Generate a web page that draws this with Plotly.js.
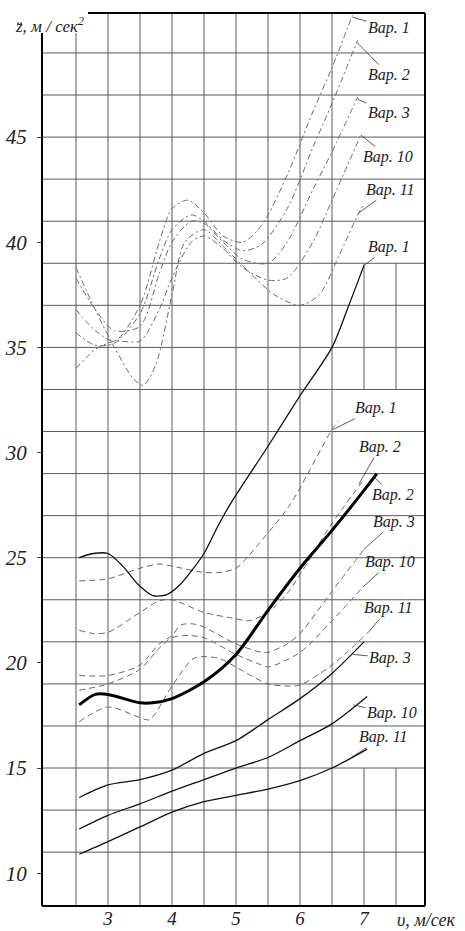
<!DOCTYPE html>
<html><head><meta charset="utf-8">
<script src="https://cdn.plot.ly/plotly-3.0.1.min.js"></script>
<style>html,body{margin:0;padding:0;background:#fff}#c{width:465px;height:931px}</style>
</head><body><div id="c"></div><script>
// ---- data (v in m/s, z'' in m/s^2) ----
// upper group, dash-dot curves
const vTop1 = [2.5, 2.8, 3.1, 3.5, 3.8, 4.0, 4.25, 4.5, 4.8, 5.1, 5.4, 5.8, 6.2, 6.5, 6.82];
const zTop1 = [36.8, 35.8, 35.3, 37.0, 40.0, 41.6, 42.0, 41.4, 40.3, 40.0, 40.8, 43.2, 46.2, 48.3, 50.8];
const vTop2 = [2.5, 2.8, 3.1, 3.5, 3.8, 4.0, 4.3, 4.5, 4.8, 5.1, 5.4, 5.8, 6.2, 6.5, 6.9];
const zTop2 = [35.7, 35.1, 35.2, 36.6, 39.2, 40.6, 41.3, 41.0, 40.1, 39.6, 39.9, 41.6, 44.5, 46.6, 49.6];
const vTop3 = [2.5, 2.8, 3.1, 3.5, 3.8, 4.0, 4.3, 4.5, 4.8, 5.1, 5.5, 5.8, 6.2, 6.5, 6.9];
const zTop3 = [38.3, 36.8, 35.8, 36.0, 38.5, 40.0, 41.0, 40.9, 40.0, 39.2, 39.0, 40.0, 42.5, 44.3, 46.9];
const vTop10 = [2.5, 2.8, 3.1, 3.5, 3.8, 4.0, 4.3, 4.5, 4.8, 5.1, 5.5, 5.8, 6.2, 6.5, 6.95];
const zTop10 = [34.0, 34.9, 35.3, 35.3, 36.8, 38.3, 40.0, 40.3, 39.7, 38.8, 38.2, 38.3, 40.0, 42.0, 45.1];
const vTop11 = [2.5, 2.8, 3.1, 3.4, 3.55, 3.75, 4.0, 4.2, 4.5, 4.8, 5.2, 5.6, 6.0, 6.3, 6.6, 6.92, 7.0];
const zTop11 = [38.8, 36.8, 35.0, 33.5, 33.2, 34.2, 37.5, 40.0, 40.6, 39.8, 38.6, 37.5, 37.0, 37.5, 39.3, 41.4, 41.8];

// middle group, dashed curves
const vDash1 = [2.55, 3.0, 3.5, 3.8, 4.0, 4.5, 4.75, 5.0, 5.17, 5.34, 5.84, 6.5, 6.6];
const zDash1 = [23.9, 24.0, 24.5, 24.7, 24.6, 24.3, 24.3, 24.5, 25.0, 25.6, 27.5, 31.1, 31.5];
const vDash2 = [2.55, 2.77, 3.0, 3.5, 3.8, 4.0, 4.5, 5.0, 5.2, 5.5, 5.8, 6.0, 6.47, 6.97];
const zDash2 = [21.55, 21.4, 21.45, 22.4, 22.95, 23.0, 22.4, 22.1, 22.0, 22.4, 23.3, 24.2, 26.5, 28.6];
const vDash3 = [2.55, 3.0, 3.5, 3.8, 4.0, 4.14, 4.34, 4.5, 5.0, 5.4, 5.5, 5.8, 6.0, 6.5, 7.0];
const zDash3 = [19.4, 19.4, 19.9, 20.9, 21.3, 21.8, 21.85, 21.7, 20.9, 20.5, 20.5, 20.9, 21.4, 23.4, 25.4];
const vDash10 = [2.55, 3.0, 3.5, 3.8, 4.0, 4.25, 4.5, 5.0, 5.4, 5.5, 6.0, 6.5, 6.98];
const zDash10 = [18.7, 19.0, 19.7, 20.7, 21.2, 21.3, 21.2, 20.4, 19.9, 19.8, 20.5, 22.0, 23.6];
const vDash11 = [2.55, 3.0, 3.5, 3.65, 4.0, 4.33, 4.5, 4.75, 5.0, 5.5, 5.8, 6.0, 6.5, 7.05];
const zDash11 = [17.2, 17.9, 17.4, 17.3, 18.9, 20.2, 20.3, 20.2, 19.8, 19.0, 18.9, 18.95, 19.9, 21.4];

// solid curves
const vSol1 = [2.55, 2.77, 3.0, 3.23, 3.48, 3.7, 3.92, 4.12, 4.5, 4.7, 4.9, 5.5, 6.0, 6.5, 6.75, 7.0];
const zSol1 = [25.0, 25.2, 25.2, 24.6, 23.7, 23.2, 23.25, 23.7, 25.2, 26.4, 27.5, 30.3, 32.7, 35.0, 36.9, 38.9];
const vThick2 = [2.55, 2.8, 3.0, 3.5, 3.7, 4.0, 4.5, 5.0, 5.5, 6.0, 6.5, 7.0, 7.2];
const zThick2 = [18.0, 18.5, 18.5, 18.1, 18.1, 18.3, 19.1, 20.4, 22.5, 24.5, 26.3, 28.2, 29.0];
const vSol3 = [2.55, 3.0, 3.5, 4.0, 4.5, 5.0, 5.5, 6.0, 6.5, 7.0];
const zSol3 = [13.6, 14.2, 14.45, 14.9, 15.7, 16.3, 17.3, 18.3, 19.5, 21.0];
const vSol10 = [2.55, 3.0, 3.5, 4.0, 4.5, 5.0, 5.5, 6.0, 6.5, 7.05];
const zSol10 = [12.1, 12.75, 13.3, 13.9, 14.45, 15.0, 15.5, 16.3, 17.1, 18.4];
const vSol11 = [2.55, 3.0, 3.5, 4.0, 4.5, 5.0, 5.5, 6.0, 6.5, 7.05];
const zSol11 = [10.9, 11.5, 12.2, 12.9, 13.4, 13.7, 14.0, 14.4, 15.0, 15.9];

// axis ticks
const xTicks = [3, 4, 5, 6, 7];
const yTicks = [10, 15, 20, 25, 30, 35, 40, 45];
const gridV = [2.5, 3, 3.5, 4, 4.5, 5, 5.5, 6, 6.5];
const gridVPart = [7, 7.5];
const gridH = [11, 13, 15, 17, 19, 21, 23, 25, 27, 29, 31, 33, 35, 37, 39, 41, 43, 45, 47, 49];

// labels: text, point on curve (v,z), text position (v,z)
const labText = ['Вар. 1','Вар. 2','Вар. 3','Вар. 10','Вар. 11','Вар. 1',
                 'Вар. 1','Вар. 2','Вар. 2','Вар. 3','Вар. 10','Вар. 11',
                 'Вар. 3','Вар. 10','Вар. 11'];
const labPtV = [6.82, 6.89, 6.9, 6.95, 6.92, 7.0, 6.52, 6.92, 7.17, 7.0, 6.98, 7.05, 6.83, 6.83, 6.8];
const labPtZ = [50.7, 49.5, 46.8, 45.1, 41.4, 38.9, 31.1, 28.5, 28.8, 25.4, 23.6, 21.4, 20.4, 18.0, 15.5];
const labTxV = [7.39, 7.39, 7.39, 7.38, 7.42, 7.39, 7.19, 7.25, 7.45, 7.47, 7.41, 7.39, 7.41, 7.44, 7.3];
const labTxZ = [50.2, 47.95, 46.14, 44.05, 42.5, 39.77, 32.11, 30.26, 27.98, 26.69, 24.79, 22.6, 20.23, 17.61, 16.47];

// ---- build ----
const SERIF = '"Liberation Serif", "Times New Roman", serif';
const topDash = '6px,3px,2px,3px';
const midDash = '6px,4px';
function tr(x, y, color, width, dash) {
  return {x: x, y: y, mode: 'lines', type: 'scatter', hoverinfo: 'skip',
          line: {color: color, width: width, dash: dash, shape: 'spline', smoothing: 0.8}};
}
const traces = [
  tr(vTop1, zTop1, '#6a6a6a', 1, topDash),
  tr(vTop2, zTop2, '#6a6a6a', 1, topDash),
  tr(vTop3, zTop3, '#6a6a6a', 1, topDash),
  tr(vTop10, zTop10, '#6a6a6a', 1, topDash),
  tr(vTop11, zTop11, '#6a6a6a', 1, topDash),
  tr(vDash1, zDash1, '#666', 1, midDash),
  tr(vDash2, zDash2, '#666', 1, midDash),
  tr(vDash3, zDash3, '#666', 1, midDash),
  tr(vDash10, zDash10, '#666', 1, midDash),
  tr(vDash11, zDash11, '#666', 1, midDash),
  tr(vSol1, zSol1, '#111', 1.3, 'solid'),
  tr(vThick2, zThick2, '#000', 3, 'solid'),
  tr(vSol3, zSol3, '#111', 1.3, 'solid'),
  tr(vSol10, zSol10, '#111', 1.3, 'solid'),
  tr(vSol11, zSol11, '#111', 1.3, 'solid')
];

const yMin = 8.44, yMax = 50.9;
const cutY = 0.9776;   // top of left axis (below the y title)
const cutX = 0.12;     // start of top frame
const shapes = [];
const gridLine = {color: '#5a5a5a', width: 1};
gridV.forEach(v => shapes.push({type: 'line', layer: 'below', xref: 'x', yref: 'paper',
  x0: v, x1: v, y0: 0, y1: v === 2.5 ? cutY : 1, line: gridLine}));
gridVPart.forEach(v => {
  shapes.push({type: 'line', layer: 'below', xref: 'x', yref: 'y', x0: v, x1: v, y0: yMin, y1: 15, line: gridLine});
  shapes.push({type: 'line', layer: 'below', xref: 'x', yref: 'y', x0: v, x1: v, y0: 33, y1: 39, line: gridLine});
});
gridH.forEach(z => shapes.push({type: 'line', layer: 'below', xref: 'paper', yref: 'y',
  x0: 0, x1: 1, y0: z, y1: z, line: gridLine}));
const frame = {color: '#000', width: 2};
shapes.push({type: 'line', xref: 'paper', yref: 'paper', x0: 0, x1: 0, y0: 0, y1: cutY, line: frame});
shapes.push({type: 'line', xref: 'paper', yref: 'paper', x0: 0, x1: 1, y0: 0, y1: 0, line: frame});
shapes.push({type: 'line', xref: 'paper', yref: 'paper', x0: 1, x1: 1, y0: 0, y1: 1, line: frame});
shapes.push({type: 'line', xref: 'paper', yref: 'paper', x0: cutX, x1: 1, y0: 1, y1: 1, line: frame});

const labFont = {family: SERIF, size: 16, color: '#222', style: 'italic'};
const annotations = labText.map((t, i) => ({
  text: t, x: labPtV[i], y: labPtZ[i], xref: 'x', yref: 'y',
  ax: labTxV[i], ay: labTxZ[i], axref: 'x', ayref: 'y',
  showarrow: true, arrowhead: 0, arrowwidth: 0.8, arrowcolor: '#333', standoff: 0,
  font: labFont
}));
annotations.push({text: 'z̈, м / сек<sup>2</sup>', xref: 'paper', yref: 'paper',
  x: -0.0757, y: 0.9866, xanchor: 'left', yanchor: 'middle', showarrow: false,
  font: {family: SERIF, size: 17, color: '#222', style: 'italic'}});
annotations.push({text: 'υ, м/сек', xref: 'paper', yref: 'paper',
  x: 0.9217, y: -0.0157, xanchor: 'left', yanchor: 'middle', showarrow: false,
  font: {family: SERIF, size: 18, color: '#222', style: 'italic'}});

const yTickFont = {family: SERIF, size: 21, color: '#222', style: 'italic'};
const xTickFont = {family: SERIF, size: 19, color: '#222', style: 'italic'};
const layout = {
  width: 465, height: 931,
  margin: {l: 42, r: 40, t: 13, b: 25},
  paper_bgcolor: '#fff', plot_bgcolor: '#fff',
  showlegend: false,
  xaxis: {range: [1.969, 7.953], tickvals: xTicks, ticktext: xTicks.map(String),
          showgrid: false, zeroline: false, showline: false, ticks: '',
          ticklabelstandoff: -1, tickfont: xTickFont, fixedrange: true},
  yaxis: {range: [yMin, yMax], tickvals: yTicks, ticktext: yTicks.map(String),
          showgrid: false, zeroline: false, showline: false,
          ticks: 'outside', ticklen: 4, tickcolor: '#444', tickwidth: 1,
          ticklabelstandoff: 6, tickfont: yTickFont, fixedrange: true},
  shapes: shapes,
  annotations: annotations
};
Plotly.newPlot('c', traces, layout, {staticPlot: true, displayModeBar: false});
</script></body></html>
